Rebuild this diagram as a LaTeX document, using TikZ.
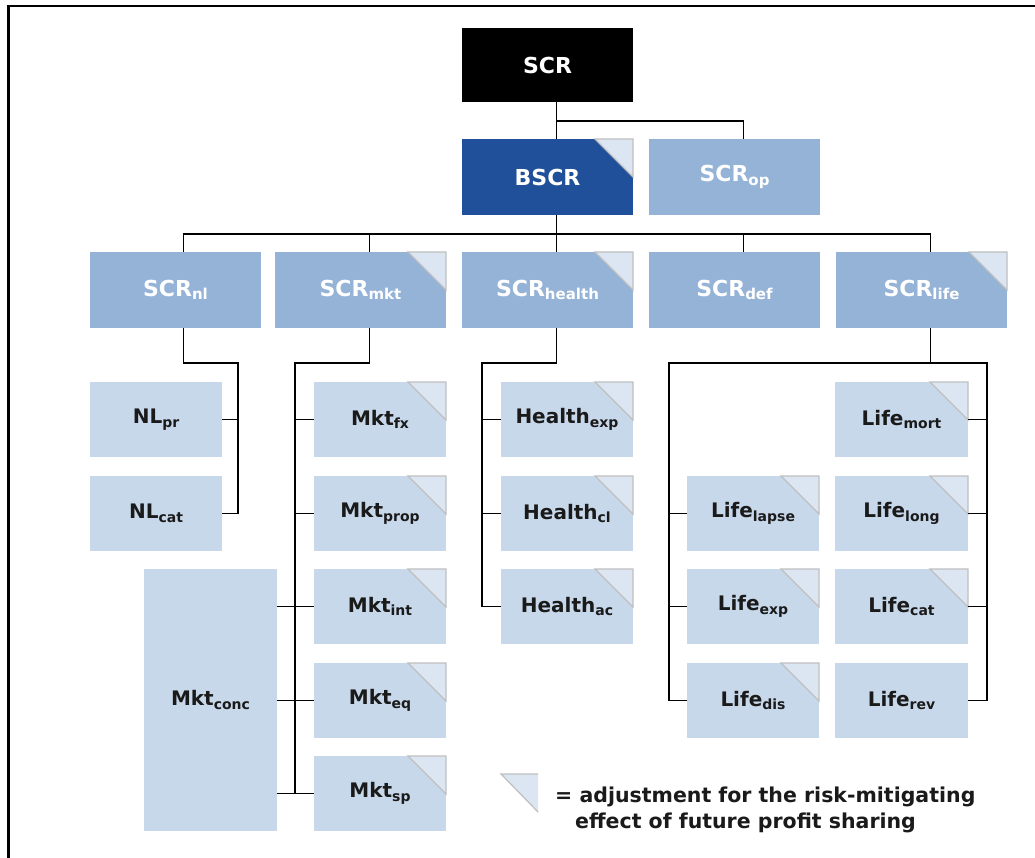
\documentclass[tikz,border=0pt]{standalone}
\usepackage{fontspec}
\setmainfont{DejaVu Sans}
\usetikzlibrary{calc}
\definecolor{bscrblue}{HTML}{21509A}
\definecolor{midblue}{HTML}{95B3D7}
\definecolor{lightblue}{HTML}{C8D8EB}
\definecolor{trifill}{HTML}{DCE6F2}
\definecolor{trigray}{HTML}{BFBFBF}
\definecolor{darktext}{HTML}{1A1A1A}
\newcommand\subA[1]{\raisebox{-3.5pt}{\fontsize{15}{15}\selectfont #1}}
\newcommand\subB[1]{\raisebox{-3.5pt}{\fontsize{14}{14}\selectfont #1}}
\begin{document}
\begin{tikzpicture}[x=1pt,y=-1pt,
  box/.style={rectangle, anchor=north west, inner sep=0pt, outer sep=0pt},
  lvA/.style={box, minimum width=171, minimum height=76, text=white,
    font=\bfseries\fontsize{22}{24}\selectfont},
  topbox/.style={lvA, fill=black, minimum height=74},
  bluebox/.style={lvA, fill=bscrblue},
  midbox/.style={lvA, fill=midblue},
  lvB/.style={box, fill=lightblue, minimum width=132, minimum height=75, text=darktext,
    font=\bfseries\fontsize{20}{22}\selectfont},
  tri/.style={fill=trifill, draw=trigray, line width=1.2},
  conn/.style={line width=1.8, black},
  legend/.style={anchor=base west, inner sep=0pt, text=darktext,
    font=\bfseries\fontsize{20.5}{25}\selectfont}
]
\useasboundingbox (0,0) rectangle (1035,858);
\draw[line width=2.6] (8.3,858) -- (8.3,6) -- (1035,6);

% top levels
\node[topbox] (scr) at (462,28) {SCR};
\node[bluebox] (bscr) at (462,139) {BSCR};
\node[midbox] (op) at (649,139) {SCR\subA{op}};

\node[midbox] (nl) at (90,252) {SCR\subA{nl}};
\node[midbox] (mkt) at (275,252) {SCR\subA{mkt}};
\node[midbox] (health) at (462,252) {SCR\subA{health}};
\node[midbox] (def) at (649,252) {SCR\subA{def}};
\node[midbox] (life) at (836,252) {SCR\subA{life}};

% NL
\node[lvB] (nlpr) at (90,382) {NL\subB{pr}};
\node[lvB] (nlcat) at (90,476) {NL\subB{cat}};

% Mkt
\node[lvB] (mktfx) at (314,382) {Mkt\subB{fx}};
\node[lvB] (mktprop) at (314,476) {Mkt\subB{prop}};
\node[lvB] (mktint) at (314,569) {Mkt\subB{int}};
\node[lvB] (mkteq) at (314,663) {Mkt\subB{eq}};
\node[lvB] (mktsp) at (314,756) {Mkt\subB{sp}};
\node[lvB, minimum width=133, minimum height=262] (mktconc) at (144,569) {Mkt\subB{conc}};

% Health
\node[lvB] (hexp) at (501,382) {Health\subB{exp}};
\node[lvB] (hcl) at (501,476) {Health\subB{cl}};
\node[lvB] (hac) at (501,569) {Health\subB{ac}};

% Life
\node[lvB] (llapse) at (687,476) {Life\subB{lapse}};
\node[lvB] (lexp) at (687,569) {Life\subB{exp}};
\node[lvB] (ldis) at (687,663) {Life\subB{dis}};
\node[lvB, minimum width=133] (lmort) at (835,382) {Life\subB{mort}};
\node[lvB, minimum width=133] (llong) at (835,476) {Life\subB{long}};
\node[lvB, minimum width=133] (lcat) at (835,569) {Life\subB{cat}};
\node[lvB, minimum width=133] (lrev) at (835,663) {Life\subB{rev}};

% corner triangles
\foreach \n in {bscr,mkt,health,life,mktfx,mktprop,mktint,mkteq,mktsp,hexp,hcl,hac,llapse,lexp,ldis,lmort,llong,lcat}{
  \draw[tri] ([xshift=-38pt]\n.north east) -- (\n.north east) -- ([yshift=-38pt]\n.north east) -- cycle;
}

% connectors top
\draw[conn] ([xshift=9pt]scr.south) -- ([xshift=9pt]bscr.north);
\draw[conn] ([xshift=9pt]scr.south) ++(0,19) -| ([xshift=9pt]op.north);
\draw[conn] ([xshift=9pt]bscr.south) -- ([xshift=9pt]health.north);
\draw[conn] ([xshift=8pt]nl.north) -- ++(0,-18) -| ([xshift=9pt]life.north);
\draw[conn] ([xshift=9pt]mkt.north) -- ++(0,-18);
\draw[conn] ([xshift=9pt]def.north) -- ++(0,-18);

% NL connectors
\coordinate (nlbus) at (238,363);
\draw[conn] ([xshift=8pt]nl.south) |- (nlbus) |- (nlcat.east);
\draw[conn] (nlpr.east) -- (nlpr.east -| nlbus);

% Mkt connectors
\coordinate (mktbus) at (295,363);
\draw[conn] ([xshift=9pt]mkt.south) |- (mktbus) -- (mktbus |- mktsp.west);
\draw[conn] (mktfx.west -| mktbus) -- (mktfx.west);
\draw[conn] (mktprop.west -| mktbus) -- (mktprop.west);
\draw[conn] (mktconc.east |- mktint.west) -- (mktint.west);
\draw[conn] (mktconc.east |- mkteq.west) -- (mkteq.west);
\draw[conn] (mktconc.east |- mktsp.west) -- (mktsp.west);

% Health connectors
\coordinate (hbus) at (482,363);
\draw[conn] ([xshift=9pt]health.south) |- (hbus) |- (hac.west);
\draw[conn] (hexp.west -| hbus) -- (hexp.west);
\draw[conn] (hcl.west -| hbus) -- (hcl.west);

% Life connectors
\coordinate (lbusL) at (669,363);
\coordinate (lbusR) at (987,363);
\draw[conn] ([xshift=9pt]life.south) -- ([xshift=9pt]life.south |- lbusL);
\draw[conn] (ldis.west) -| (lbusL) -- (lbusR) |- (lrev.east);
\draw[conn] (llapse.west -| lbusL) -- (llapse.west);
\draw[conn] (lexp.west -| lbusL) -- (lexp.west);
\draw[conn] (lmort.east) -- (lmort.east -| lbusR);
\draw[conn] (llong.east) -- (llong.east -| lbusR);
\draw[conn] (lcat.east) -- (lcat.east -| lbusR);

% legend
\fill[trifill] (501,774) -- (538,774) -- (538,812) -- cycle;
\draw[trigray, line width=1.2] (538,774) -- (501,774) -- (538,812);
\node[legend] (leg1) at (555,802) {= adjustment for the risk-mitigating};
\node[legend] (leg2) at (575,828) {effect of future profit sharing};
\end{tikzpicture}
\end{document}
